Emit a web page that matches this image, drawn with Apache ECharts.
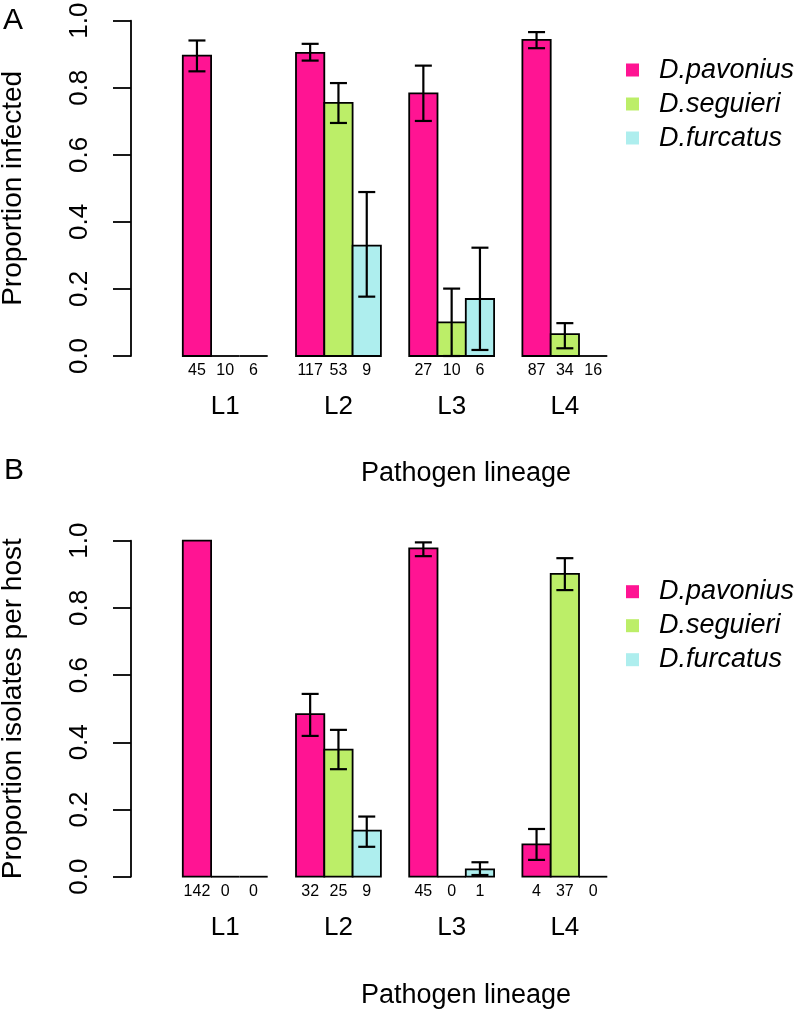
<!DOCTYPE html>
<html>
<head>
<meta charset="utf-8">
<script src="https://cdn.jsdelivr.net/npm/echarts@6/dist/echarts.min.js"></script>
<style>
html,body{margin:0;padding:0;background:#fff;}
#chart{width:800px;height:1012px;}
</style>
</head>
<body>
<div id="chart"></div>
<script>
// ---------- data ----------
const lineages = ['L1', 'L2', 'L3', 'L4'];
const hosts = ['D.pavonius', 'D.seguieri', 'D.furcatus'];
const hostColors = ['#FF1493', '#BCEE68', '#AEEEEE'];
const yTicks = [0.0, 0.2, 0.4, 0.6, 0.8, 1.0];

// Panel A: proportion infected
const infPavonius   = [0.896, 0.904, 0.783, 0.943];
const infPavoniusLo = [0.849, 0.881, 0.701, 0.918];
const infPavoniusHi = [0.941, 0.931, 0.866, 0.966];
const infPavoniusN  = [45, 117, 27, 87];
const infSeguieri   = [0, 0.755, 0.100, 0.065];
const infSeguieriLo = [null, 0.695, 0.000, 0.023];
const infSeguieriHi = [null, 0.814, 0.201, 0.098];
const infSeguieriN  = [10, 53, 10, 34];
const infFurcatus   = [0, 0.329, 0.170, 0];
const infFurcatusLo = [null, 0.177, 0.018, null];
const infFurcatusHi = [null, 0.489, 0.323, null];
const infFurcatusN  = [6, 9, 6, 16];

// Panel B: proportion isolates per host
const isoPavonius   = [1.000, 0.484, 0.977, 0.096];
const isoPavoniusLo = [null, 0.419, 0.954, 0.050];
const isoPavoniusHi = [null, 0.544, 0.995, 0.142];
const isoPavoniusN  = [142, 32, 45, 4];
const isoSeguieri   = [0, 0.378, 0, 0.901];
const isoSeguieriLo = [null, 0.320, null, 0.853];
const isoSeguieriHi = [null, 0.437, null, 0.948];
const isoSeguieriN  = [0, 25, 0, 37];
const isoFurcatus   = [0, 0.137, 0.022, 0];
const isoFurcatusLo = [null, 0.089, 0.005, null];
const isoFurcatusHi = [null, 0.179, 0.043, null];
const isoFurcatusN  = [0, 9, 1, 0];

// ---------- build ----------
const FONT = '"Liberation Sans", Arial, Helvetica, sans-serif';

function rows(v, lo, hi, n) {
  return lineages.map((l, i) => [i, v[i], lo[i] == null ? '-' : lo[i], hi[i] == null ? '-' : hi[i], n[i]]);
}

function makeRender(h) {
  return function (params, api) {
    const ci = api.value(0), v = api.value(1), lo = api.value(2), hi = api.value(3), n = api.value(4);
    const base = api.coord([ci, 0]);
    const top = api.coord([ci, v]);
    const bw = api.size([1, 0])[0];
    const unit = bw / 4;
    const x0 = base[0] - 1.5 * unit + unit * h;
    const cx = x0 + unit / 2;
    const children = [];
    if (v > 0) {
      children.push({
        type: 'rect',
        shape: { x: x0, y: top[1], width: unit, height: base[1] - top[1] },
        style: { fill: hostColors[h], stroke: '#000', lineWidth: 1.8 }
      });
    } else {
      children.push({
        type: 'line',
        shape: { x1: x0, y1: base[1], x2: x0 + unit, y2: base[1] },
        style: { stroke: '#000', lineWidth: 1.8 }
      });
    }
    if (isFinite(lo) && isFinite(hi)) {
      const pl = api.coord([ci, lo])[1], ph = api.coord([ci, hi])[1];
      const cw = 8.5;
      const es = { stroke: '#000', lineWidth: 2.2 };
      children.push({ type: 'line', shape: { x1: cx, y1: pl, x2: cx, y2: ph }, style: es });
      children.push({ type: 'line', shape: { x1: cx - cw, y1: pl, x2: cx + cw, y2: pl }, style: es });
      children.push({ type: 'line', shape: { x1: cx - cw, y1: ph, x2: cx + cw, y2: ph }, style: es });
    }
    children.push({
      type: 'text',
      x: cx, y: base[1] + 14.5,
      style: { text: String(n), fill: '#000', font: '16px ' + FONT, align: 'center', verticalAlign: 'middle' }
    });
    return { type: 'group', children: children };
  };
}

const panelData = [
  [rows(infPavonius, infPavoniusLo, infPavoniusHi, infPavoniusN),
   rows(infSeguieri, infSeguieriLo, infSeguieriHi, infSeguieriN),
   rows(infFurcatus, infFurcatusLo, infFurcatusHi, infFurcatusN)],
  [rows(isoPavonius, isoPavoniusLo, isoPavoniusHi, isoPavoniusN),
   rows(isoSeguieri, isoSeguieriLo, isoSeguieriHi, isoSeguieriN),
   rows(isoFurcatus, isoFurcatusLo, isoFurcatusHi, isoFurcatusN)]
];

const series = [];
panelData.forEach((pd, p) => {
  pd.forEach((d, h) => {
    series.push({
      type: 'custom',
      name: hosts[h],
      xAxisIndex: p, yAxisIndex: p,
      itemStyle: { color: hostColors[h] },
      clip: false,
      silent: true,
      encode: { x: 0, y: 1 },
      renderItem: makeRender(h),
      data: d
    });
  });
});

const gridLeft = 168.65, gridRight = 178.55;
const grids = [
  { left: gridLeft, right: gridRight, top: 20.7, height: 335.3, containLabel: false, outerBoundsMode: 'none' },
  { left: gridLeft, right: gridRight, top: 540.7, height: 336, containLabel: false, outerBoundsMode: 'none' }
];
const yNames = ['Proportion infected', 'Proportion isolates per host'];

const xAxes = grids.map((g, i) => ({
  type: 'category', gridIndex: i, data: lineages, boundaryGap: true,
  axisLine: { show: false }, axisTick: { show: false }, splitLine: { show: false },
  axisLabel: { fontSize: 26, fontFamily: FONT, color: '#000', margin: 38, interval: 0 }
}));
const yAxes = grids.map((g, i) => ({
  type: 'value', gridIndex: i, min: yTicks[0], max: yTicks[yTicks.length - 1], interval: 0.2,
  offset: gridLeft - 131,
  axisLine: { show: true, onZero: false, lineStyle: { color: '#000', width: 1.8 } },
  axisTick: { show: true, length: 18, lineStyle: { color: '#000', width: 1.8 } },
  splitLine: { show: false },
  axisLabel: { rotate: 90, fontSize: 26, fontFamily: FONT, color: '#000', margin: 38,
    formatter: v => v.toFixed(1) },
  name: yNames[i], nameLocation: 'middle', nameGap: 104,
  nameTextStyle: { fontSize: 28, fontFamily: FONT, color: '#000' }
}));

const legends = [55, 576.7].map(t => ({
  data: hosts, orient: 'vertical', left: 626, top: t, padding: 0,
  icon: 'rect', itemWidth: 13, itemHeight: 13, itemGap: 4, selectedMode: false,
  textStyle: { fontSize: 27, fontStyle: 'italic', fontFamily: FONT, color: '#000',
    lineHeight: 30, padding: [0, 0, 0, 15] }
}));

const graphics = [
  { type: 'text', left: 3, top: 6, style: { text: 'A', font: '30px ' + FONT, fill: '#000' } },
  { type: 'text', left: 4, top: 456, style: { text: 'B', font: '30px ' + FONT, fill: '#000' } },
  { type: 'text', x: 466, y: 474, style: { text: 'Pathogen lineage', font: '27px ' + FONT, fill: '#000', align: 'center', verticalAlign: 'middle' } },
  { type: 'text', x: 466, y: 995.5, style: { text: 'Pathogen lineage', font: '27px ' + FONT, fill: '#000', align: 'center', verticalAlign: 'middle' } }
];

const chart = echarts.init(document.getElementById('chart'), null, { renderer: 'canvas' });
chart.setOption({
  animation: false,
  backgroundColor: '#fff',
  grid: grids,
  xAxis: xAxes,
  yAxis: yAxes,
  legend: legends,
  graphic: graphics,
  series: series
});
</script>
</body>
</html>
